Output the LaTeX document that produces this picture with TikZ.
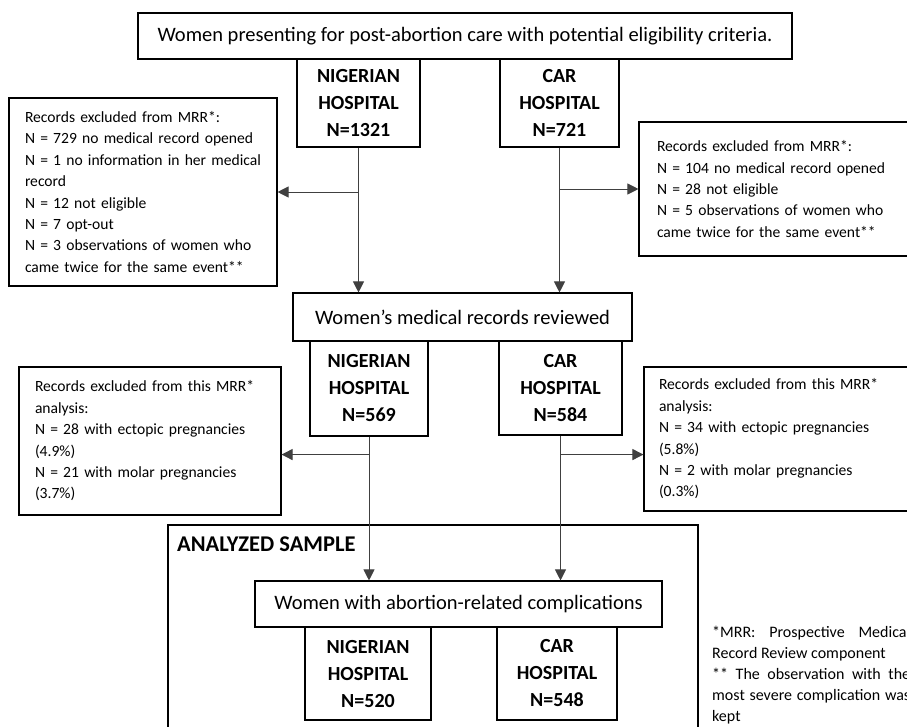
\documentclass[tikz,border=0pt]{standalone}
\usepackage{fontspec}
\setmainfont{Carlito}
\usetikzlibrary{arrows.meta}

\newcommand\mainsize{\fontsize{20.5}{24}\selectfont}
\newcommand\hospsize{\fontsize{20}{27}\selectfont}
\newcommand\exclsize{\fontsize{15.6}{21.4}\selectfont\hyphenpenalty=10000\relax}
\newcommand\notesize{\fontsize{16}{21}\selectfont}

\begin{document}
\begin{tikzpicture}[
    x=1pt, y=-1pt,
    box/.style={draw, line width=1.1pt, inner sep=0pt, font=\mainsize},
    hosp/.style={draw, line width=1.1pt, inner sep=0pt, align=center,
        font=\hospsize\bfseries},
    excl/.style={draw, line width=1.1pt, inner ysep=0pt, align=left,
        font=\exclsize},
    link/.style={line width=1pt, draw=black!75},
    pile/.style={link, -{Triangle[width=11pt,length=11pt]}},
    frame/.style={draw, line width=2.4pt}
    ]
    \useasboundingbox (0,0) rectangle (907,726);
    \clip (0,0) rectangle (907,726);
    % first level
    \node[box, minimum width=654pt, minimum height=46pt] (top) at (465,36)
        {Women presenting for post-abortion care with potential eligibility criteria.};
    \node[hosp, minimum width=123pt, minimum height=88pt] (nig1) at (358.5,103)
        {NIGERIAN\\HOSPITAL\\N=1321};
    \node[hosp, minimum width=119pt, minimum height=88pt] (car1) at (559.5,103)
        {CAR\\HOSPITAL\\N=721};
    \node[excl, inner xsep=16pt, text width=236pt, minimum height=188pt] (exnig1)
        at (143,192)
        {Records excluded from MRR*:\\
         N = 729 no medical record opened\\
         N = 1 no information in her medical\\
         record\\
         N = 12 not eligible\\
         N = 7 opt-out\\
         N = 3 observations of women who\\
         came twice for the same event**};
    \node[excl, inner xsep=18pt, text width=250pt, minimum height=134pt] (excar1)
        at (782,189)
        {Records excluded from MRR*:\\
         N = 104 no medical record opened\\
         N = 28 not eligible\\
         N = 5 observations of women who\\
         came twice for the same event**};
    % second level
    \node[box, minimum width=339pt, minimum height=48pt] (reviewed) at (462.5,317)
        {Women’s medical records reviewed};
    \node[hosp, minimum width=118pt, minimum height=95pt] (nig2) at (369,388.5)
        {NIGERIAN\\HOSPITAL\\N=569};
    \node[hosp, minimum width=123pt, minimum height=94pt] (car2) at (560.5,388)
        {CAR\\HOSPITAL\\N=584};
    \node[excl, inner xsep=16pt, text width=230pt, minimum height=148pt] (exnig2)
        at (150,441)
        {Records excluded from this MRR*\\
         analysis:\\
         N = 28 with ectopic pregnancies\\
         (4.9\%)\\
         N = 21 with molar pregnancies\\
         (3.7\%)};
    \node[excl, inner xsep=15pt, text width=251pt, minimum height=144pt] (excar2)
        at (784.5,439)
        {Records excluded from this MRR*\\
         analysis:\\
         N = 34 with ectopic pregnancies\\
         (5.8\%)\\
         N = 2 with molar pregnancies\\
         (0.3\%)};
    % analyzed sample
    \draw[frame] (168,525) rectangle (698,770);
    \node[anchor=west, inner sep=0pt, font=\fontsize{22.5}{26}\selectfont\bfseries]
        (samplelabel) at (177,544) {ANALYZED SAMPLE};
    \node[box, minimum width=407pt, minimum height=46pt] (compl) at (458.5,604)
        {Women with abortion-related complications};
    \node[hosp, minimum width=126pt, minimum height=93pt] (nig3) at (368,673.5)
        {NIGERIAN\\HOSPITAL\\N=520};
    \node[hosp, minimum width=120pt, minimum height=93pt] (car3) at (557,673.5)
        {CAR\\HOSPITAL\\N=548};
    % footnote
    \node[anchor=north west, inner sep=0pt, font=\notesize] (note) at (712,626)
        {\parbox[t]{198pt}{\hyphenpenalty=10000
         *MRR: Prospective Medical Record Review component\par
         ** The observation with the most severe complication was kept}};
    % connectors
    \draw[pile] (nig1.south) -- (reviewed.north -| nig1.south);
    \draw[pile] (nig1.south |- exnig1.east) -- (exnig1.east);
    \draw[pile] (car1.south) -- (reviewed.north -| car1.south);
    \draw[pile] (car1.south |- excar1.west) -- (excar1.west);
    \path (nig2.south) ++(0,18) coordinate (nigfork);
    \path (car2.south) ++(0,19) coordinate (carfork);
    \draw[pile] (nigfork) -- (nigfork -| exnig2.east);
    \draw[pile] (carfork) -- (carfork -| excar2.west);
    \draw[pile] (nig2.south) -- (compl.north -| nig2.south);
    \draw[pile] (car2.south) -- (compl.north -| car2.south);
\end{tikzpicture}
\end{document}
